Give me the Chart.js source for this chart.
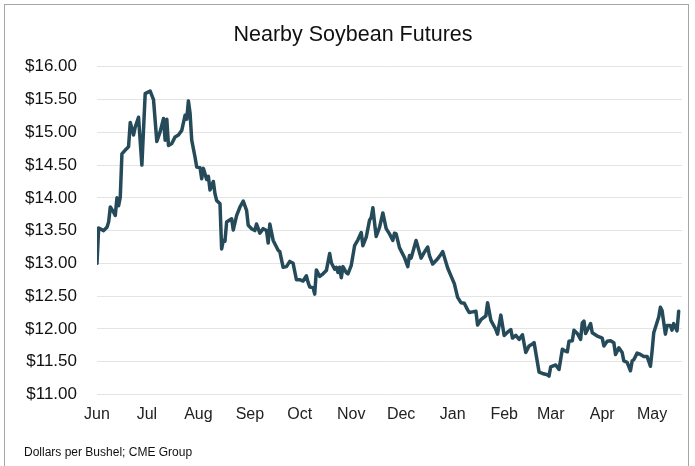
<!DOCTYPE html>
<html>
<head>
<meta charset="utf-8">
<script src="https://cdn.jsdelivr.net/npm/chart.js@4"></script>
<style>
  html, body { margin: 0; padding: 0; background: #fff; }
  #wrap { position: relative; width: 695px; height: 466px; }
  #frame { position: absolute; left: 4px; top: 4px; width: 685px; height: 470px;
           border: 1px solid #a6a6a6; box-sizing: border-box; pointer-events: none; }
</style>
</head>
<body>
<div id="wrap">
  <canvas id="soyChart" width="695" height="466"></canvas>
  <div id="frame"></div>
</div>
<script>
// days since Jun 1 and nearby soybean futures close ($/bu)
const days = [0, 1, 4, 6, 7, 8, 10, 11, 12, 13, 14, 15, 17, 19, 20, 22, 23, 25, 27, 29,
  32, 34, 36, 38, 40, 41, 42, 43, 45, 47, 49, 51, 53, 54, 55, 56, 57, 59, 60, 62,
  63, 64, 66, 67, 68, 70, 71, 72, 74, 75, 76, 77, 78, 81, 82, 84, 86, 88, 90, 91,
  93, 95, 96, 98, 100, 102, 103, 104, 106, 109, 110, 112, 114, 116, 118, 120, 122, 124, 126, 127,
  128, 130, 131, 132, 134, 136, 138, 140, 141, 143, 144, 145, 146, 147, 148, 150, 151, 153, 155, 157,
  159, 160, 162, 164, 165, 166, 167, 168, 170, 172, 174, 176, 178, 179, 180, 182, 185, 187, 188, 189,
  192, 195, 197, 199, 200, 202, 205, 207, 208, 211, 213, 215, 217, 219, 221, 223, 224, 226, 228, 229,
  231, 234, 235, 237, 240, 241, 243, 245, 247, 249, 250, 252, 254, 256, 258, 260, 262, 263, 266, 268,
  271, 272, 273, 276, 278, 280, 282, 283, 284, 286, 287, 289, 291, 292, 293, 294, 295, 297, 298, 301,
  303, 304, 305, 307, 309, 311, 312, 314, 316, 317, 319, 321, 322, 323, 325, 327, 329, 331, 333, 334,
  335, 338, 339, 340, 342, 343, 345, 346, 347, 349, 350];

const prices = [13.00, 13.54, 13.50, 13.55, 13.63, 13.86, 13.78, 13.73, 14.00, 13.88, 14.01, 14.67, 14.73, 14.78, 15.15, 14.96, 15.08, 15.23, 14.50, 15.59,
  15.63, 15.50, 14.86, 15.01, 15.21, 14.88, 15.20, 14.80, 14.83, 14.93, 14.96, 15.03, 15.26, 15.20, 15.48, 15.29, 14.88, 14.62, 14.47, 14.46,
  14.29, 14.45, 14.28, 14.33, 14.12, 14.25, 14.06, 13.96, 13.91, 13.22, 13.35, 13.34, 13.63, 13.68, 13.51, 13.73, 13.86, 13.95, 13.81, 13.58,
  13.53, 13.50, 13.60, 13.46, 13.53, 13.50, 13.31, 13.60, 13.35, 13.20, 13.18, 12.94, 12.95, 13.03, 13.00, 12.75, 12.75, 12.73, 12.81, 12.71,
  12.64, 12.63, 12.53, 12.90, 12.80, 12.84, 12.89, 13.15, 13.01, 12.91, 12.94, 12.86, 12.94, 12.78, 12.95, 12.86, 12.84, 12.97, 13.27, 13.36,
  13.47, 13.27, 13.40, 13.66, 13.70, 13.85, 13.62, 13.41, 13.55, 13.77, 13.53, 13.45, 13.35, 13.46, 13.45, 13.24, 13.09, 12.95, 13.12, 13.08,
  13.35, 13.08, 13.17, 13.25, 13.12, 12.99, 13.07, 13.14, 13.18, 12.93, 12.81, 12.69, 12.48, 12.40, 12.39, 12.29, 12.25, 12.26, 12.27, 12.06,
  12.14, 12.20, 12.40, 12.13, 11.99, 11.92, 12.21, 11.90, 11.95, 11.99, 11.86, 11.90, 11.84, 11.91, 11.64, 11.74, 11.77, 11.79, 11.34, 11.32,
  11.30, 11.28, 11.42, 11.45, 11.38, 11.69, 11.66, 11.65, 11.81, 11.82, 11.98, 11.93, 11.84, 12.09, 12.12, 11.93, 11.98, 12.08, 11.94, 11.89,
  11.87, 11.86, 11.74, 11.81, 11.82, 11.79, 11.61, 11.71, 11.64, 11.51, 11.49, 11.36, 11.51, 11.53, 11.63, 11.61, 11.58, 11.58, 11.43, 11.66,
  11.94, 12.18, 12.33, 12.28, 11.92, 12.05, 12.05, 11.98, 12.08, 11.97, 12.27];

const monthStarts = [0, 30, 61, 92, 122, 153, 183, 214, 245, 273, 304, 334];
const monthNames = ["Jun", "Jul", "Aug", "Sep", "Oct", "Nov", "Dec", "Jan", "Feb", "Mar", "Apr", "May"];

const fontFamily = "'Liberation Sans', Arial, sans-serif";

const context = document.getElementById("soyChart").getContext("2d");
const chart = new Chart(context, {
  type: "line",
  data: {
    datasets: [{
      label: "Nearby Soybean Futures",
      data: days.map((d, i) => ({ x: d, y: prices[i] })),
      borderColor: "#254a5a",
      borderWidth: 3.5,
      borderJoinStyle: "round",
      borderCapStyle: "round",
      pointRadius: 0,
      tension: 0
    }]
  },
  options: {
    responsive: false,
    animation: false,
    layout: { padding: { top: 10, left: 24, right: 13, bottom: 6 } },
    plugins: {
      legend: { display: false },
      tooltip: { enabled: false },
      title: {
        display: true,
        text: "Nearby Soybean Futures",
        color: "#111",
        font: { family: fontFamily, size: 21.5, weight: "normal" },
        padding: { top: 12, bottom: 19 }
      },
      subtitle: {
        display: true,
        position: "bottom",
        align: "start",
        text: "Dollars per Bushel; CME Group",
        color: "#111",
        font: { family: fontFamily, size: 12, weight: "normal" },
        padding: { top: 10, bottom: 0 }
      }
    },
    scales: {
      x: {
        type: "linear",
        min: 0,
        max: 352,
        grid: { display: false, drawTicks: false },
        border: { display: false },
        afterBuildTicks: function(scale) {
          scale.ticks = monthStarts.map(v => ({ value: v }));
        },
        ticks: {
          autoSkip: false,
          maxRotation: 0,
          padding: 11,
          color: "#222",
          font: { family: fontFamily, size: 16 },
          callback: function(value, index) {
            return monthNames[index];
          }
        }
      },
      y: {
        min: 11,
        max: 16,
        grid: { color: "#e4e4e4", lineWidth: 1, drawTicks: false },
        border: { display: false },
        afterFit: function(scale) {
          scale.width = 73;
        },
        ticks: {
          stepSize: 0.5,
          padding: 20,
          color: "#111",
          font: { family: fontFamily, size: 17 },
          callback: function(value) {
            return "$" + value.toFixed(2);
          }
        }
      }
    }
  }
});
</script>
</body>
</html>
